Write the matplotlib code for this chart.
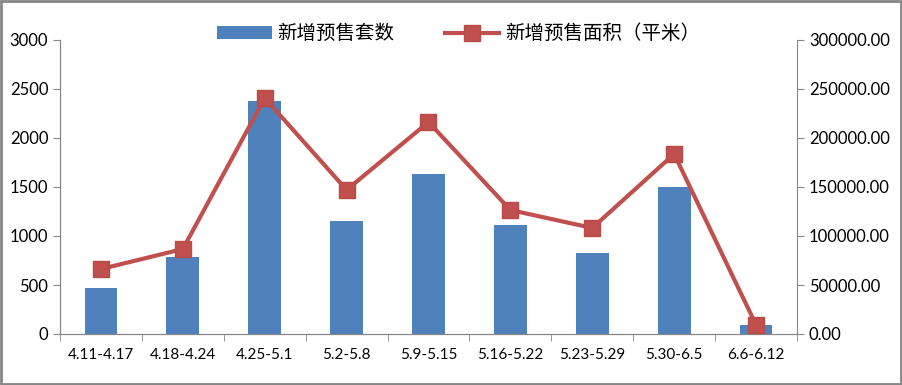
import matplotlib
matplotlib.use('Agg')
import matplotlib.pyplot as plt
import numpy as np

weeks = ['4.11-4.17', '4.18-4.24', '4.25-5.1', '5.2-5.8', '5.9-5.15',
         '5.16-5.22', '5.23-5.29', '5.30-6.5', '6.6-6.12']
units = [470, 790, 2380, 1155, 1635, 1112, 828, 1500, 92]
area = [66300, 86700, 240800, 147000, 216300, 126500, 108200, 183700, 9200]
left_ticks = [0, 500, 1000, 1500, 2000, 2500, 3000]
right_ticks = [0, 50000, 100000, 150000, 200000, 250000, 300000]

plt.rcParams['font.family'] = ['Lato', 'Noto Sans CJK SC', 'DejaVu Sans']
blue = '#4f81bd'
red = '#c0504d'
grey = '#868686'
fs = 11

fig = plt.figure(figsize=(9.03, 3.85), dpi=100)
ax = fig.add_axes([60/903, 1-334/385, (797-60)/903, (334-40)/385])
x = np.arange(len(weeks))
bars = ax.bar(x, units, width=0.4, color=blue, label='新增预售套数', zorder=2)
ax.set_xlim(-0.5, len(weeks)-0.5)
ax.set_ylim(0, 3000)
ax.set_yticks(left_ticks)
ax.set_yticklabels([str(v) for v in left_ticks], fontsize=fs+1)
ax.set_xticks(x)
ax.set_xticklabels(weeks, fontsize=fs)
ax.set_xticks(np.arange(len(weeks)+1)-0.5, minor=True)
ax.tick_params(axis='x', which='major', length=0, pad=10)
ax.tick_params(axis='x', which='minor', length=5, color=grey)
ax.tick_params(axis='y', length=5, color=grey)

ax2 = ax.twinx()
line, = ax2.plot(x, area, color=red, lw=3, marker='s', ms=11,
                 markerfacecolor=red, markeredgecolor='#b84a47',
                 label='新增预售面积（平米）', zorder=3)
ax2.set_ylim(0, 300000)
ax2.set_yticks(right_ticks)
ax2.set_yticklabels(['%.2f' % v for v in right_ticks], fontsize=fs+1)
ax2.tick_params(axis='y', length=5, color=grey)

for a in (ax, ax2):
    a.spines['top'].set_visible(False)
    for s in ['left', 'right', 'bottom']:
        a.spines[s].set_color(grey)
ax.spines['right'].set_visible(False)

fig.legend(handles=[bars, line], labels=['新增预售套数', '新增预售面积（平米）'],
           loc='center', bbox_to_anchor=(0.508, 1-33/385), ncol=2, frameon=False,
           fontsize=14, handlelength=2.8, handletextpad=0.3, columnspacing=2.6)

fig.patches.append(plt.Rectangle((0.001, 0.002), 0.997, 0.995, transform=fig.transFigure,
                                 fill=False, edgecolor=grey, lw=2))
fig.savefig('out.png', dpi=100)
